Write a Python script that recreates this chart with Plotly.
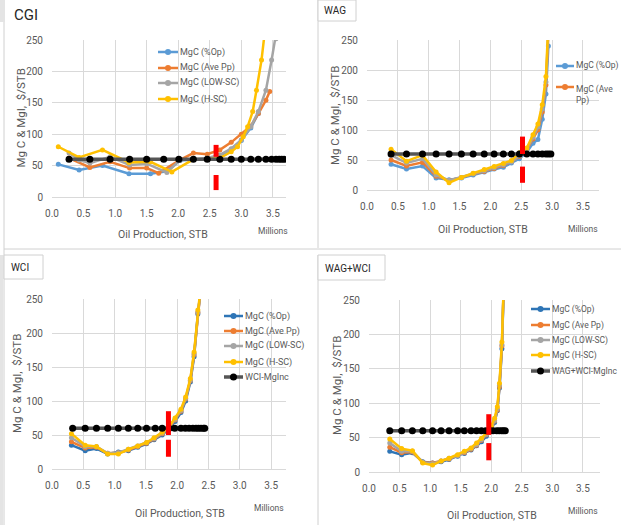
import plotly.graph_objects as go

W, H = 621, 525
FONT = "Roboto, Liberation Sans, sans-serif"
TXT = "#595959"
GRID = "#d9d9d9"
FRAME = "#d0d0d0"

SERIES_NAMES = ["MgC (%Op)", "MgC (Ave Pp)", "MgC (LOW-SC)", "MgC (H-SC)"]
COLORS_TOP = ["#5B9BD5", "#ED7D31", "#A5A5A5", "#FFC000"]
COLORS_BOT = ["#2E75B6", "#ED7D31", "#A5A5A5", "#FFC000"]
X_TICKS = [0.0, 0.5, 1.0, 1.5, 2.0, 2.5, 3.0, 3.5]
Y_TICKS = [0, 50, 100, 150, 200, 250]
PANEL_TITLES = ["CGI", "WAG", "WCI", "WAG+WCI"]
MGI_NAMES = [None, None, "WCI-MgInc", "WAG+WCI-MgInc"]

# ---------------- CGI ----------------
cgi_op_x = [0.10, 0.43, 0.80, 1.22, 1.56, 1.82, 2.03, 2.24, 2.46, 2.66, 2.84, 3.00, 3.15, 3.27]
cgi_op_y = [52, 43, 50, 37, 37, 41, 58, 60, 61, 66, 76, 90, 110, 133]
cgi_pp_x = [0.27, 0.60, 0.92, 1.23, 1.50, 1.69, 2.03, 2.24, 2.46, 2.66, 2.84, 3.00, 3.15, 3.27, 3.39, 3.45]
cgi_pp_y = [62, 47, 56, 46, 46, 38, 59, 70, 68, 75, 87, 100, 113, 133, 154, 168]
cgi_low_x = [0.27, 0.43, 0.60, 0.92, 1.23, 1.50, 1.82, 2.03, 2.24, 2.46, 2.66, 2.84, 3.00, 3.15, 3.27, 3.39, 3.48, 3.55, 3.60]
cgi_low_y = [70, 59, 54, 64, 51, 53, 39, 59, 60, 62, 67, 77, 91, 112, 136, 170, 218, 252, 290]
cgi_hsc_x = [0.10, 0.43, 0.80, 1.22, 1.56, 1.90, 2.24, 2.46, 2.66, 2.84, 2.94, 3.03, 3.10, 3.18, 3.24, 3.32, 3.38]
cgi_hsc_y = [80, 63, 75, 55, 56, 40, 60, 60, 62, 72, 80, 96, 112, 136, 170, 218, 270]
cgi_mgi_x = [0.27, 0.60, 0.92, 1.23, 1.50, 1.77, 2.01, 2.24, 2.46, 2.66, 2.84, 3.00, 3.15, 3.27, 3.39, 3.48, 3.55, 3.60, 3.64, 3.68]
cgi_mgi_y = [60, 60, 60, 60, 60, 60, 60, 60, 60, 60, 60, 60, 60, 60, 60, 60, 60, 60, 60, 60]

# ---------------- WAG ----------------
wag_x = [0.39, 0.64, 0.90, 1.12, 1.33, 1.53, 1.72, 1.90, 2.06, 2.21, 2.34, 2.47, 2.59, 2.69, 2.77, 2.84, 2.90, 2.94]
wag_op_y = [43, 35, 40, 20, 17, 20, 25, 30, 35, 38, 45, 52, 63, 78, 84, 118, 160, 240]
wag_pp_y = [50, 40, 46, 23, 16, 21, 27, 31, 36, 41, 47, 56, 67, 85, 100, 130, 175, 260]
wag_low_y = [58, 45, 52, 25, 16, 21, 27, 32, 37, 42, 47, 57, 68, 88, 105, 135, 180, 270]
wag_hsc_y = [68, 48, 58, 30, 12, 21, 28, 34, 39, 44, 49, 62, 70, 92, 110, 142, 189, 280]
wag_mgi_x = [0.39, 0.64, 0.90, 1.12, 1.33, 1.53, 1.72, 1.90, 2.06, 2.21, 2.34, 2.47, 2.59, 2.69, 2.77, 2.84, 2.90, 2.94, 2.98]
wag_mgi_y = [60, 60, 60, 60, 60, 60, 60, 60, 60, 60, 60, 60, 60, 60, 60, 60, 60, 60, 60]

# ---------------- WCI ----------------
wci_x = [0.31, 0.53, 0.71, 0.89, 1.06, 1.22, 1.37, 1.51, 1.63, 1.76, 1.875, 1.965, 2.06, 2.135, 2.21, 2.27, 2.33, 2.365]
wci_op_y = [35, 27, 30, 22, 25, 27, 32, 37, 43, 50, 60, 70, 83, 100, 128, 165, 228, 254]
wci_pp_y = [40, 31, 32, 23, 24, 28, 33, 38, 44, 52, 61, 72, 85, 103, 130, 168, 230, 256]
wci_low_y = [46, 33, 33, 23, 24, 29, 34, 39, 45, 53, 62, 73, 86, 104, 131, 170, 231, 258]
wci_hsc_y = [52, 35, 33, 22, 22, 29, 34, 39, 46, 54, 63, 75, 88, 106, 133, 172, 234, 260]
wci_mgi_x = [0.33, 0.53, 0.71, 0.89, 1.06, 1.22, 1.37, 1.51, 1.65, 1.76, 1.87, 1.96, 2.06, 2.13, 2.19, 2.25, 2.30, 2.34, 2.38, 2.42, 2.44]
wci_mgi_y = [60, 60, 60, 60, 60, 60, 60, 60, 60, 60, 60, 60, 60, 60, 60, 60, 60, 60, 60, 60, 60]

# ---------------- WAG+WCI ----------------
ww_x = [0.34, 0.535, 0.71, 0.88, 1.04, 1.18, 1.31, 1.45, 1.56, 1.67, 1.76, 1.84, 1.92, 2.00, 2.055, 2.10, 2.135, 2.175, 2.20]
ww_op_y = [30, 25, 28, 15, 13, 15, 18, 23, 27, 32, 38, 44, 52, 61, 72, 89, 122, 179, 254]
ww_pp_y = [36, 28, 29, 14, 13, 16, 19, 24, 28, 33, 39, 46, 54, 63, 74, 90, 124, 183, 256]
ww_low_y = [42, 30, 30, 14, 12, 16, 20, 24, 29, 34, 40, 47, 55, 64, 75, 92, 126, 185, 258]
ww_hsc_y = [48, 34, 31, 13, 10, 16, 20, 25, 30, 35, 42, 49, 57, 67, 78, 95, 129, 189, 260]
ww_mgi_x = [0.34, 0.535, 0.71, 0.88, 1.04, 1.18, 1.31, 1.45, 1.56, 1.67, 1.76, 1.84, 1.91, 1.98, 2.03, 2.09, 2.13, 2.17, 2.20, 2.23]
ww_mgi_y = [60, 60, 60, 60, 60, 60, 60, 60, 60, 60, 60, 60, 60, 60, 60, 60, 60, 60, 60, 60]

# red crossing markers: (x, upper bar y0, y1, lower bar y0, y1)
RED_MARKS = [
    (2.60, 64, 83, 11, 35),
    (2.52, 60, 89, 12, 39),
    (1.86, 50, 85, 18, 43),
    (1.96, 54, 84, 17, 42),
]

PANELS = [
    dict(series=[(cgi_op_x, cgi_op_y), (cgi_pp_x, cgi_pp_y), (cgi_low_x, cgi_low_y), (cgi_hsc_x, cgi_hsc_y)],
         mgi=(cgi_mgi_x, cgi_mgi_y), colors=COLORS_TOP),
    dict(series=[(wag_x, wag_op_y), (wag_x, wag_pp_y), (wag_x, wag_low_y), (wag_x, wag_hsc_y)],
         mgi=(wag_mgi_x, wag_mgi_y), colors=COLORS_TOP),
    dict(series=[(wci_x, wci_op_y), (wci_x, wci_pp_y), (wci_x, wci_low_y), (wci_x, wci_hsc_y)],
         mgi=(wci_mgi_x, wci_mgi_y), colors=COLORS_BOT),
    dict(series=[(ww_x, ww_op_y), (ww_x, ww_pp_y), (ww_x, ww_low_y), (ww_x, ww_hsc_y)],
         mgi=(ww_mgi_x, ww_mgi_y), colors=COLORS_BOT),
]

def px(v):
    return v / W

def py(v):
    return 1 - v / H

# plot areas: (left, right, top, bottom) px, x range max
AREAS = [
    (52, 286, 40, 197, 3.708),
    (367, 599, 40, 190, 3.76),
    (52, 286, 299, 469, 3.738),
    (369, 600, 300, 472, 3.78),
]
XTITLE = [(163, 234), (483, 229), (180, 513), (492, 515)]
MILLIONS = [(273, 231), (583, 229), (269, 508), (583, 511)]
YTITLE_X = [20, 335, 17, 337]

fig = go.Figure()
for i, p in enumerate(PANELS):
    xa = "x" if i == 0 else f"x{i+1}"
    ya = "y" if i == 0 else f"y{i+1}"
    for (sx, sy), name, col in zip(p["series"], SERIES_NAMES, p["colors"]):
        fig.add_trace(go.Scatter(x=sx, y=sy, name=name, mode="lines+markers",
                                 line=dict(color=col, width=2.5),
                                 marker=dict(color=col, size=5),
                                 xaxis=xa, yaxis=ya, showlegend=False))
    mx, my = p["mgi"]
    fig.add_trace(go.Scatter(x=mx, y=my, name=MGI_NAMES[i] or "MgI", mode="lines+markers",
                             line=dict(color="#555555", width=3.5),
                             marker=dict(color="black", size=7),
                             xaxis=xa, yaxis=ya, showlegend=False))

layout = dict(width=W, height=H, margin=dict(l=0, r=0, t=0, b=0, autoexpand=False),
              paper_bgcolor="white", plot_bgcolor="white",
              font=dict(family=FONT, color=TXT, size=10), showlegend=False)
shapes = []
annotations = []


def label(text, x, y, size, color=TXT, xanchor="center", **kw):
    annotations.append(dict(text=text, x=px(x), y=py(y), xref="paper", yref="paper",
                            xanchor=xanchor, yanchor="middle", showarrow=False,
                            font=dict(size=size, color=color), **kw))


for i, (l, r, t, b, xmax) in enumerate(AREAS):
    suffix = "" if i == 0 else str(i + 1)
    layout["xaxis" + suffix] = dict(domain=[px(l), px(r)], range=[0, xmax], anchor="y" + suffix,
                                   tickvals=X_TICKS, tickformat=".1f", showgrid=True, gridcolor=GRID,
                                   gridwidth=1, zeroline=False, showline=True, linecolor=GRID,
                                   ticks="", ticklabelstandoff=7, automargin=False,
                                   tickfont=dict(size=10, color=TXT))
    layout["yaxis" + suffix] = dict(domain=[py(b), py(t)], range=[0, 250], anchor="x" + suffix,
                                   tickvals=Y_TICKS, showgrid=True, gridcolor=GRID, gridwidth=1,
                                   zeroline=False, showline=False, ticks="", ticklabelstandoff=8,
                                   automargin=False, tickfont=dict(size=10, color=TXT))
    xr, yr = "x" + suffix, "y" + suffix
    rx, u0, u1, l0, l1 = RED_MARKS[i]
    for y0, y1 in ((u0, u1), (l0, l1)):
        shapes.append(dict(type="line", xref=xr, yref=yr, x0=rx, x1=rx, y0=y0, y1=y1,
                           line=dict(color="#FF0000", width=5), layer="above"))
    label("Oil Production, STB", XTITLE[i][0], XTITLE[i][1], 10.5)
    label("Millions", MILLIONS[i][0], MILLIONS[i][1], 8.5)
    label("Mg C &amp; MgI,\u00a0\u00a0$/STB", YTITLE_X[i], (t + b) / 2, 11.5, textangle=-90)

# ---------- legends (drawn from series names/colours) ----------
LEGENDS = [
    dict(x0=158, x1=178, rows=[52, 68, 83, 99], names=SERIES_NAMES, colors=COLORS_TOP, black=False, fs=9),
    dict(x0=556, x1=574, rows=[66, 95], names=["MgC (%Op)", "MgC (Ave<br>Pp)"], colors=COLORS_TOP[:2],
         black=False, fs=8.5),
    dict(x0=224, x1=243, rows=[316, 331, 346, 362, 377], names=SERIES_NAMES + [MGI_NAMES[2]],
         colors=COLORS_BOT, black=True, fs=9),
    dict(x0=531, x1=550, rows=[309, 325, 340, 355, 371], names=SERIES_NAMES + [MGI_NAMES[3]],
         colors=COLORS_BOT, black=True, fs=8.5),
]
for li, lg in enumerate(LEGENDS):
    for k, (row, name) in enumerate(zip(lg["rows"], lg["names"])):
        is_black = lg["black"] and k == 4
        col = "#555555" if is_black else lg["colors"][k]
        mcol = "black" if is_black else col
        lrow = row if not (li == 1 and k == 1) else 87
        shapes.append(dict(type="line", xref="paper", yref="paper", x0=px(lg["x0"]), x1=px(lg["x1"]),
                           y0=py(lrow), y1=py(lrow), line=dict(color=col, width=3.5 if is_black else 2.5)))
        r = 3.5 if is_black else 3
        cx = (lg["x0"] + lg["x1"]) / 2
        shapes.append(dict(type="circle", xref="paper", yref="paper", x0=px(cx - r), x1=px(cx + r),
                           y0=py(lrow + r), y1=py(lrow - r), fillcolor=mcol, line=dict(width=0)))
        label(name, lg["x1"] + 1, row, lg["fs"], xanchor="left", align="left", borderpad=0)

# ---------- panel frames & titles ----------
frame_lines = [
    (4, 22, 4, 525), (318, 0, 318, 248), (318, 255, 318, 525), (318, 249, 621, 249),
    (4, 249, 318, 249),
]
for x0, y0, x1, y1 in frame_lines:
    shapes.append(dict(type="line", xref="paper", yref="paper", x0=px(x0), y0=py(y0), x1=px(x1), y1=py(y1),
                       line=dict(color=FRAME, width=1)))
shapes.append(dict(type="rect", xref="paper", yref="paper", x0=px(0), x1=px(5), y0=py(22), y1=py(0),
                   fillcolor="#e4e4e4", line=dict(width=0)))
shapes.append(dict(type="rect", xref="paper", yref="paper", x0=px(0), x1=px(3), y0=py(525), y1=py(255),
                   fillcolor="#e4e4e4", line=dict(width=0)))
BOXES = [(318, 356, 0, 21), (4, 43, 255, 279), (318, 385, 255, 280)]
for x0, x1, y0, y1 in BOXES:
    shapes.append(dict(type="rect", xref="paper", yref="paper", x0=px(x0), x1=px(x1), y0=py(y1), y1=py(y0),
                       fillcolor="white", line=dict(color=FRAME, width=1)))
TITLE_POS = [(12, 15, 15), (322, 11, 10), (9, 267, 10), (323, 268, 10)]
for t, (tx, ty, ts) in zip(PANEL_TITLES, TITLE_POS):
    label(t, tx, ty, ts, color="#262626", xanchor="left")

layout["shapes"] = shapes
layout["annotations"] = annotations
fig.update_layout(**layout)
fig.write_html("out.html", config={"displayModeBar": False},
               post_script="document.body.style.margin='0';document.body.style.padding='0';")
